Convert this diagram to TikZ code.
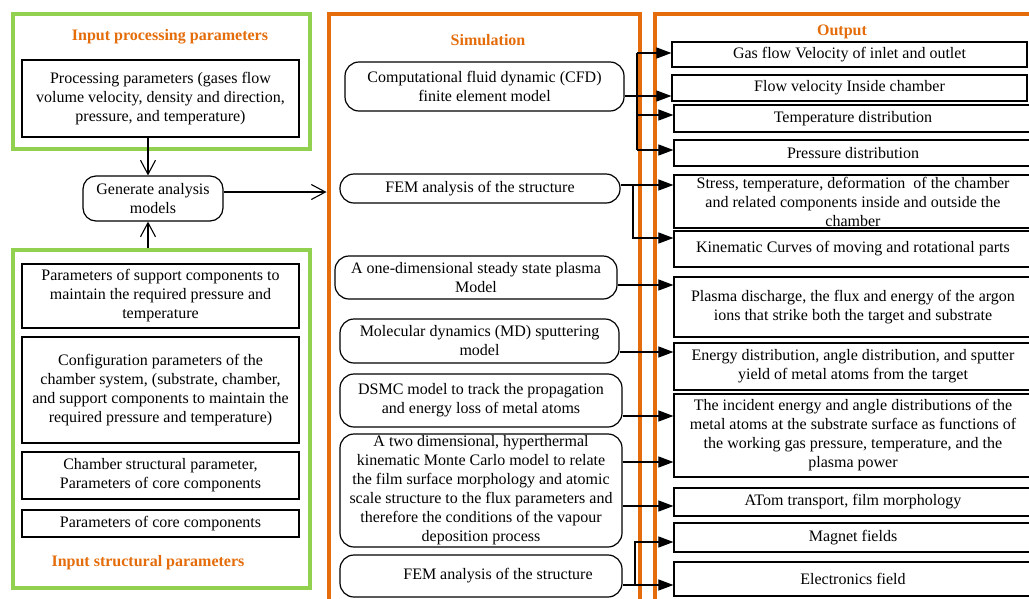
\documentclass[tikz,border=0pt]{standalone}
\usepackage{fontspec}
\setmainfont{Liberation Serif}
\usetikzlibrary{arrows.meta}
\definecolor{framegreen}{HTML}{92D050}
\definecolor{frameorange}{HTML}{E46C0A}
\tikzset{
  txt/.style={font=\fontsize{16}{19}\selectfont, align=center, inner sep=0pt},
  plainbox/.style={txt, draw=black, line width=1.2pt, rectangle},
  roundbox/.style={plainbox, rounded corners=14pt},
  title/.style={font=\fontsize{16}{19}\selectfont\bfseries, text=frameorange, inner sep=0pt},
  gframe/.style={draw=framegreen, line width=4pt, rectangle, inner sep=0pt},
  oframe/.style={draw=frameorange, line width=4pt, rectangle, inner sep=0pt},
  link/.style={draw=black, line width=1.1pt},
  filledtip/.style={link, -{Triangle[length=15pt,width=11pt]}},
  opentip/.style={link, -{Straight Barb[length=14pt,width=15pt,line width=1.1pt]}},
}
\begin{document}
\begin{tikzpicture}[x=1pt,y=-1pt]
\useasboundingbox (0,0) rectangle (1029,598);
\clip (0,0) rectangle (1029,598);

% frames
\node[gframe, minimum width=297pt, minimum height=135pt] (gtop) at (161,81) {};
\node[gframe, minimum width=297pt, minimum height=338.5pt] (gbot) at (161,418.75) {};
\node[oframe, minimum width=311.5pt, minimum height=626pt] (sim) at (484.25,327) {};
\node[oframe, minimum width=415.5pt, minimum height=626pt] (out) at (862.25,327) {};

% titles
\node[title] (tin) at (170,37) {Input processing parameters};
\node[title] (tstr) at (148,563) {Input structural parameters};
\node[title] (tsim) at (488,40) {Simulation};
\node[title] (tout) at (842,32) {Output};

% input column
\node[plainbox, minimum width=277pt, minimum height=77pt] (proc) at (160.5,98.5)
  {Processing parameters (gases flow\\volume velocity, density and direction,\\pressure, and temperature)};
\node[roundbox, rounded corners=13pt, minimum width=140pt, minimum height=45pt] (gen) at (153,198.5)
  {Generate analysis\\models};
\node[plainbox, minimum width=277pt, minimum height=64pt] (sup) at (160.5,296)
  {Parameters of support components to\\maintain the required pressure and\\temperature};
\node[plainbox, minimum width=277pt, minimum height=106pt] (conf) at (160.5,390)
  {Configuration parameters of the\\chamber system, (substrate, chamber,\\and support components to maintain the\\required pressure and temperature)};
\node[plainbox, minimum width=277pt, minimum height=47pt] (cham) at (160.5,475.5)
  {Chamber structural parameter,\\Parameters of core components};
\node[plainbox, minimum width=277pt, minimum height=27pt] (core) at (160.5,523.5)
  {Parameters of core components};

% simulation column
\node[roundbox, minimum width=279pt, minimum height=49pt] (cfd) at (484.5,86.5)
  {Computational fluid dynamic (CFD)\\finite element model};
\node[roundbox, minimum width=280pt, minimum height=29pt] (femA) at (480,188.5)
  {FEM analysis of the structure};
\node[roundbox, minimum width=282pt, minimum height=43pt] (plas) at (476,277.5)
  {A one-dimensional steady state plasma\\Model};
\node[roundbox, minimum width=279pt, minimum height=44pt] (md) at (479.5,341)
  {Molecular dynamics (MD) sputtering\\model};
\node[roundbox, minimum width=282pt, minimum height=53pt] (dsmc) at (481,400.5)
  {DSMC model to track the propagation\\and energy loss of metal atoms};
\node[roundbox, minimum width=282pt, minimum height=113pt] (kmc) at (481,490.5)
  {A two dimensional, hyperthermal\\kinematic Monte Carlo model to relate\\the film surface morphology and atomic\\scale structure to the flux parameters and\\therefore the conditions of the vapour\\deposition process};
\node[roundbox, minimum width=282pt, minimum height=42pt] (femB) at (481,576)
  {\hspace*{34pt}FEM analysis of the structure};

% output column
\node[plainbox, minimum width=355pt, minimum height=25pt] (o1) at (849.5,54.5)
  {Gas flow Velocity of inlet and outlet};
\node[plainbox, minimum width=355pt, minimum height=26pt] (o2) at (849.5,88)
  {Flow velocity Inside chamber};
\node[plainbox, minimum width=358pt, minimum height=27pt] (o3) at (853,118.5)
  {Temperature distribution};
\node[plainbox, minimum width=358pt, minimum height=26pt] (o4) at (853,153)
  {Pressure distribution};
\node[plainbox, minimum width=358pt, minimum height=53pt] (o5) at (853,201.5)
  {Stress, temperature, deformation \ of the chamber\\and related components inside and outside the\\chamber};
\node[plainbox, minimum width=358pt, minimum height=36pt] (o6) at (853,249)
  {Kinematic Curves of moving and rotational parts};
\node[plainbox, minimum width=358pt, minimum height=60pt] (o7) at (853,307)
  {Plasma discharge, the flux and energy of the argon\\ions that strike both the target and substrate};
\node[plainbox, minimum width=358pt, minimum height=47pt] (o8) at (853,366.5)
  {Energy distribution, angle distribution, and sputter\\yield of metal atoms from the target};
\node[plainbox, minimum width=358pt, minimum height=83pt] (o9) at (853,435.5)
  {The incident energy and angle distributions of the\\metal atoms at the substrate surface as functions of\\the working gas pressure, temperature, and the\\plasma power};
\node[plainbox, minimum width=358pt, minimum height=28pt] (o10) at (853,502)
  {ATom transport, film morphology};
\node[plainbox, minimum width=358pt, minimum height=29pt] (o11) at (853,537.5)
  {Magnet fields};
\node[plainbox, minimum width=358pt, minimum height=34pt] (o12) at (853,579)
  {Electronics field};

% input arrows
\draw[opentip] (proc.south -| 148,0) -- (gen.north -| 148,0);
\draw[opentip] (gbot.north -| 148,0) -- (gen.south -| 148,0);
\draw[opentip] (gen.east |- 0,192) -- (sim.west |- 0,192);

% simulation -> output
\coordinate (cfdbus) at (637,53);
\coordinate (fembus) at (633,185);
\coordinate (fembusB) at (635,585);
\draw[filledtip] (cfd.east |- 0,96) -- (o2.west |- 0,96);
\draw[link] (cfdbus) -- (637,150);
\draw[filledtip] (cfdbus) -- (o1.west |- cfdbus);
\draw[filledtip] (cfdbus |- 0,115) -- (o3.west |- 0,115);
\draw[filledtip] (cfdbus |- 0,150) -- (o4.west |- 0,150);
\draw[filledtip] (femA.east |- fembus) -- (o5.west |- fembus);
\draw[filledtip] (fembus) |- (o6.west |- 0,238);
\draw[filledtip] (plas.east |- 0,285) -- (o7.west |- 0,285);
\draw[filledtip] (md.east |- 0,352) -- (o8.west |- 0,352);
\draw[filledtip] (dsmc.east |- 0,416) -- (o9.west |- 0,416);
\draw[filledtip] (kmc.east |- 0,462) -- (o9.west |- 0,462);
\draw[filledtip] (kmc.east |- 0,506) -- (o10.west |- 0,506);
\draw[filledtip] (femB.east |- fembusB) -- (o12.west |- fembusB);
\draw[filledtip] (fembusB) |- (o11.west |- 0,542);
\end{tikzpicture}
\end{document}
